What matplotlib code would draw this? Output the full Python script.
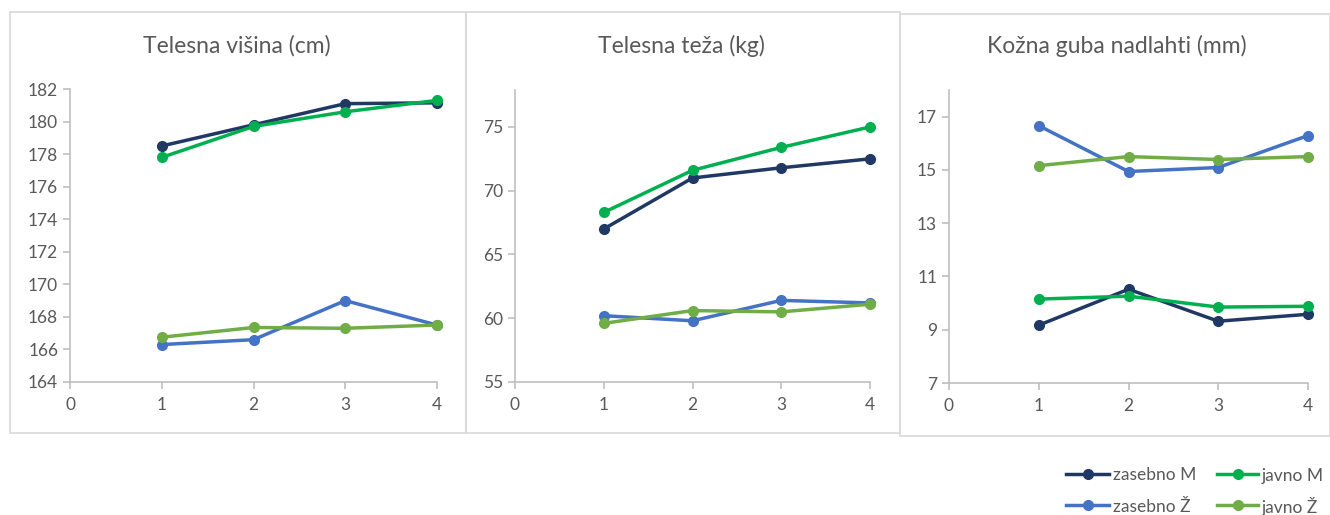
import matplotlib.pyplot as plt
from matplotlib.patches import Rectangle
from matplotlib.lines import Line2D

plt.rcParams['font.family'] = ['Lato', 'DejaVu Sans']

x = [1, 2, 3, 4]
series_names = ['zasebno M', 'zasebno Ž', 'javno M', 'javno Ž']
colors = ['#203864', '#4472c4', '#00b050', '#70ad47']

titles = ['Telesna višina (cm)', 'Telesna teža (kg)', 'Kožna guba nadlahti (mm)']

# telesna visina
visina_zas_m = [178.5, 179.8, 181.1, 181.15]
visina_zas_z = [166.3, 166.6, 169.0, 167.5]
visina_jav_m = [177.8, 179.7, 180.6, 181.3]
visina_jav_z = [166.75, 167.35, 167.3, 167.5]

# telesna teza
teza_zas_m = [67.0, 71.0, 71.8, 72.5]
teza_zas_z = [60.2, 59.8, 61.4, 61.2]
teza_jav_m = [68.3, 71.6, 73.4, 75.0]
teza_jav_z = [59.6, 60.6, 60.5, 61.1]

# kozna guba
guba_zas_m = [9.17, 10.52, 9.32, 9.58]
guba_zas_z = [16.66, 14.94, 15.09, 16.29]
guba_jav_m = [10.15, 10.26, 9.85, 9.88]
guba_jav_z = [15.16, 15.5, 15.39, 15.5]

data = [
    [visina_zas_m, visina_zas_z, visina_jav_m, visina_jav_z],
    [teza_zas_m, teza_zas_z, teza_jav_m, teza_jav_z],
    [guba_zas_m, guba_zas_z, guba_jav_m, guba_jav_z],
]
ylims = [(164, 182), (55, 77.9), (7, 18)]
yticks = [range(164, 183, 2), range(55, 76, 5), range(7, 18, 2)]

W, H = 1330, 515
fig = plt.figure(figsize=(W / 100, H / 100), dpi=100)

# panel frames (pixel boxes: left, top, right, bottom)
frames = [(10, 12, 466, 433), (466, 12, 900, 433), (900, 14, 1330, 436)]
axes_px = [(70, 89, 437, 382), (515, 90, 870, 382), (949, 90, 1308, 383)]
title_x = [237, 681, 1117]

for fr in frames:
    l, t, r, b = fr
    fig.patches.append(Rectangle((l / W, 1 - b / H), (r - l) / W, (b - t) / H,
                                 transform=fig.transFigure, fill=False,
                                 edgecolor='#d9d9d9', linewidth=1.2))

grey = '#595959'
for i in range(3):
    l, t, r, b = axes_px[i]
    ax = fig.add_axes([l / W, 1 - b / H, (r - l) / W, (b - t) / H])
    for vals, c, name in zip(data[i], colors, series_names):
        ax.plot(x, vals, color=c, lw=2.5, marker='o', ms=7, label=name,
                clip_on=False)
    ax.set_xlim(0, 4)
    ax.set_ylim(*ylims[i])
    ax.set_xticks(range(5))
    ax.set_yticks(list(yticks[i]))
    for s in ['top', 'right']:
        ax.spines[s].set_visible(False)
    for s in ['left', 'bottom']:
        ax.spines[s].set_color('#bfbfbf')
        ax.spines[s].set_linewidth(1.2)
    ax.tick_params(colors='#bfbfbf', labelcolor=grey, labelsize=12.5, length=5,
                   width=1.2)
    ax.tick_params(axis='x', pad=6)
    ax.patch.set_alpha(0)
    fig.text(title_x[i] / W, 1 - 46 / H, titles[i], ha='center', va='center',
             fontsize=16.5, color=grey)

# legend, laid out by hand so both rows line up
leg_cols = [(1066, 1109), (1066, 1109), (1217, 1258), (1217, 1258)]
leg_rows = [474, 505, 474, 505]
for name, c, (x0, x1), yy in zip(series_names, colors, leg_cols, leg_rows):
    fy = 1 - yy / H
    fig.add_artist(Line2D([x0 / W, x1 / W], [fy, fy], color=c, lw=2.5,
                          transform=fig.transFigure))
    fig.add_artist(Line2D([(x0 + x1) / 2 / W], [fy], color=c, marker='o',
                          ms=7, transform=fig.transFigure))
    fig.text((x1 + 4) / W, fy, name, ha='left', va='center_baseline',
             fontsize=12.5, color=grey)

fig.savefig('out.png', dpi=100)
